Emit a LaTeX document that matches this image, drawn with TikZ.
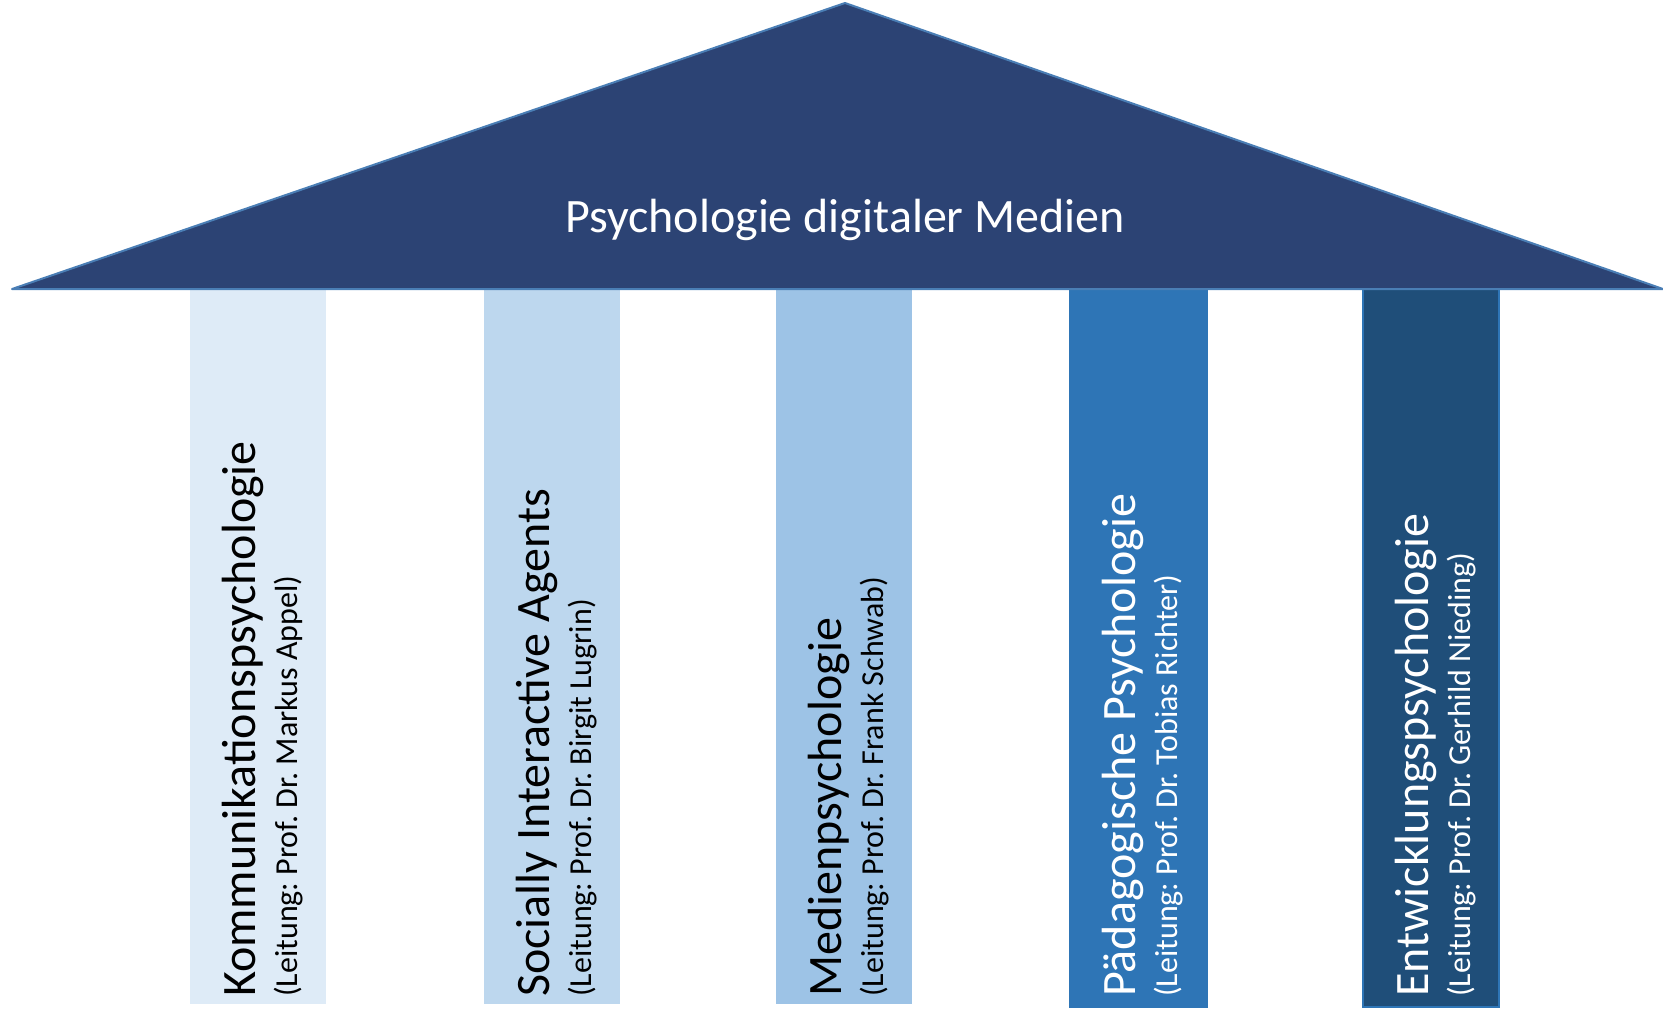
\documentclass[tikz,border=0pt]{standalone}
\usepackage{fontspec}
\setmainfont{Carlito}
\frenchspacing
\definecolor{roof}{HTML}{2C4374}
\definecolor{roofline}{HTML}{4A7EB5}
\definecolor{cA}{HTML}{DEEBF7}
\definecolor{cB}{HTML}{BDD7EE}
\definecolor{cC}{HTML}{9DC3E6}
\definecolor{cD}{HTML}{2E75B6}
\definecolor{cE}{HTML}{1F4E79}
\begin{document}
\frenchspacing
\begin{tikzpicture}[x=1pt,y=-1pt,
  bigtext/.style={rotate=90,anchor=base west,inner sep=0pt,font=\fontsize{48}{58}\selectfont},
  smalltext/.style={rotate=90,anchor=base west,inner sep=0pt,font=\fontsize{32}{38}\selectfont},
  title/.style={anchor=base,inner sep=0pt,text=white,font=\fontsize{48}{58}\selectfont}]
\useasboundingbox (0,0) rectangle (1663,1010);
% columns
\fill[cA] (190,289) rectangle (326,1004);
\fill[cB] (484,289) rectangle (620,1004);
\fill[cC] (776,289) rectangle (912,1004);
\filldraw[fill=cD,draw=cD,line width=1.5pt] (1070,289) rectangle (1207,1007);
\filldraw[fill=cE,draw=cD,line width=2pt] (1363,289) rectangle (1499,1007);
% roof
\filldraw[fill=roof,draw=roofline,line width=2pt,line join=round] (12,289) -- (845,3) -- (1663,289) -- cycle;
\node[title] (t) at (845,232) {Psychologie digitaler Medien};
% column texts
\node[bigtext] (k1) at (255,997) {Kommunikationspsychologie};
\node[smalltext] (l1) at (297,997) {(Leitung: Prof. Dr. Markus Appel)};
\node[bigtext] (k2) at (549,997) {Socially Interactive Agents};
\node[smalltext] (l2) at (591,997) {(Leitung: Prof. Dr. Birgit Lugrin)};
\node[bigtext] (k3) at (841,997) {Medienpsychologie};
\node[smalltext] (l3) at (883,997) {(Leitung: Prof. Dr. Frank Schwab)};
\node[bigtext,text=white] (k4) at (1135,997) {Pädagogische Psychologie};
\node[smalltext,text=white] (l4) at (1177,997) {(Leitung: Prof. Dr. Tobias Richter)};
\node[bigtext,text=white] (k5) at (1428,997) {Entwicklungspsychologie};
\node[smalltext,text=white] (l5) at (1470,997) {(Leitung: Prof. Dr. Gerhild Nieding)};
\end{tikzpicture}
\end{document}
